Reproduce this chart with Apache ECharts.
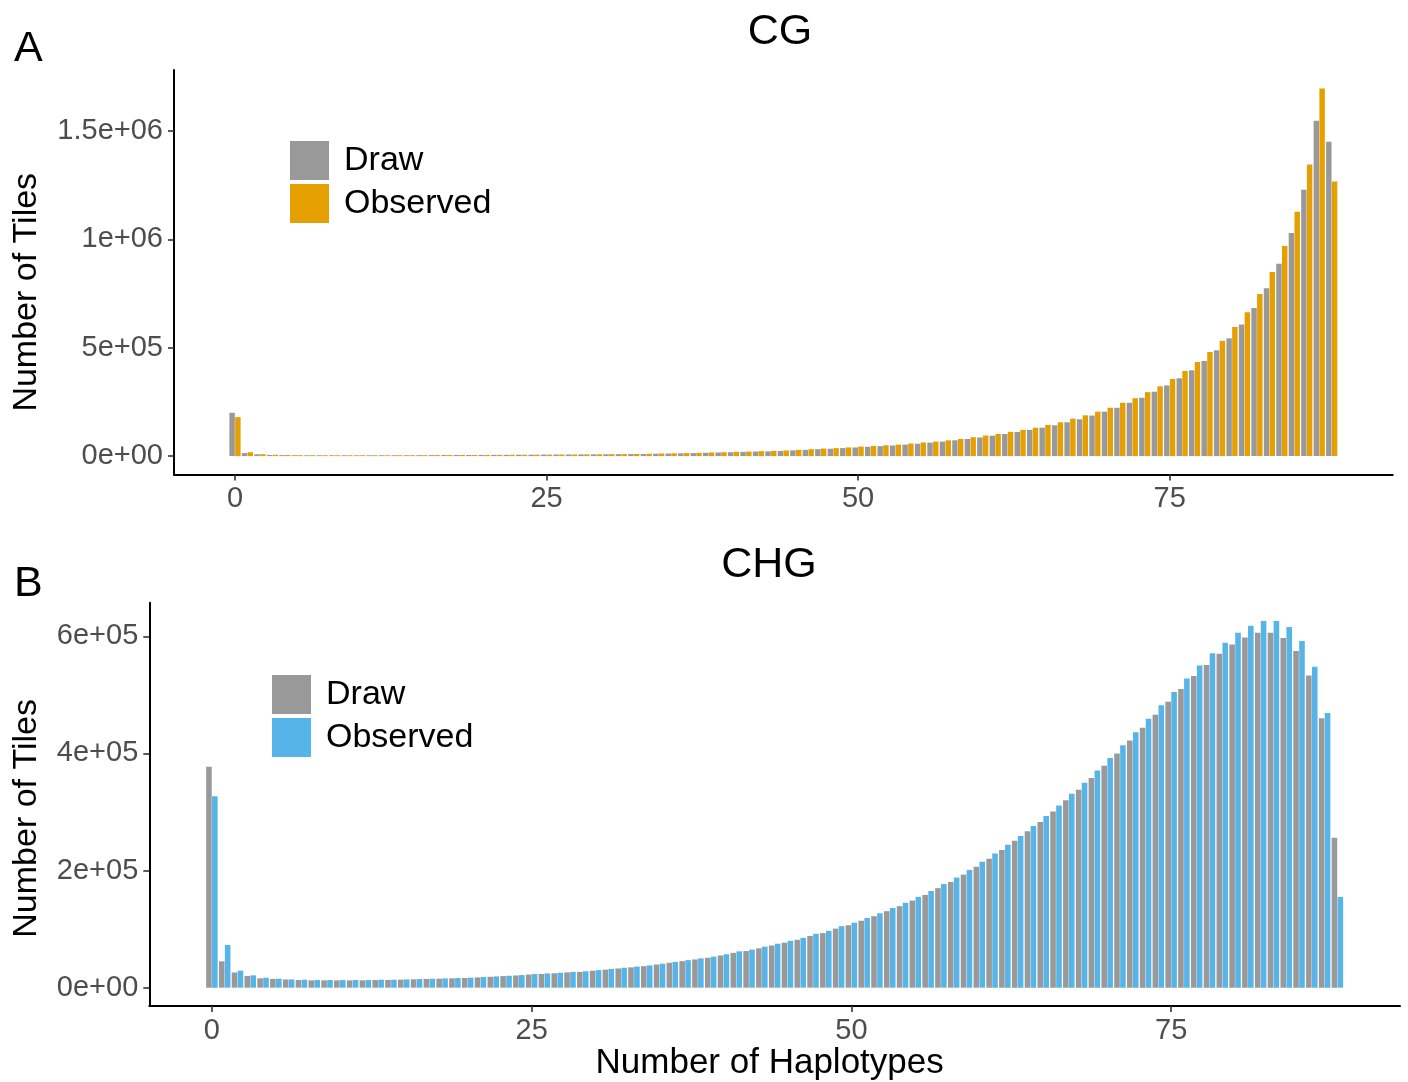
<!DOCTYPE html>
<html>
<head>
<meta charset="utf-8">
<script src="https://cdn.jsdelivr.net/npm/echarts@6/dist/echarts.min.js"></script>
<style>
html,body{margin:0;padding:0;background:#fff;}
#chart{width:1408px;height:1082px;}
</style>
</head>
<body>
<div id="chart"></div>
<script>
// ---------- data ----------
const haplotypes = Array.from({length: 89}, (_, i) => i); // category positions 0..88

const cgDraw = [200000,14000,8500,5500,4700,4300,4000,3900,3900,3900,
  3900,3900,4000,4100,4200,4400,4600,4800,5000,5200,
  5400,5700,6000,6300,6600,6900,7200,7500,7900,8200,
  8500,9000,9500,10000,11000,12000,13000,14000,15500,17000,
  18000,19500,21000,22000,24000,26500,29000,32000,34000,37000,
  40000,43000,46000,49000,53000,57000,62000,67000,73000,79000,
  86000,94000,102000,111000,121000,131000,142000,156000,170000,187000,
  205000,223000,246000,269000,297000,326000,359000,396000,439000,488000,
  543000,607000,683000,774000,887000,1029000,1228000,1547000,1450000];

const cgObserved = [180000,18000,9000,6000,5000,4500,4200,4000,4000,4000,
  4000,4000,4100,4200,4300,4500,4700,4900,5100,5300,
  5500,5800,6100,6400,6700,7000,7300,7700,8100,8500,
  9000,9500,10000,11000,12000,13000,14000,15000,17000,18000,
  20000,21000,23000,24000,26000,29000,32000,35000,37000,40000,
  44000,47000,50000,53000,58000,63000,67000,73000,79000,87000,
  95000,102000,112000,121000,131000,144000,156000,173000,188000,205000,
  223000,246000,267000,295000,322000,356000,393000,434000,480000,532000,
  595000,664000,748000,849000,969000,1127000,1345000,1696000,1267000];

const chgDraw = [377000,45000,26000,20000,16000,15000,14000,13000,12500,12500,
  12500,12500,12500,13000,13200,13700,14200,14800,15300,15900,
  16500,17500,18600,19700,20800,22400,23500,24600,26000,27000,
  29000,30800,32800,34700,36700,39500,42500,45300,48200,51000,
  55000,59500,62500,67200,72000,76800,81700,88300,93200,100800,
  106600,114300,122000,130600,139200,148800,158400,169900,180500,193000,
  206500,220000,235000,251000,267000,283000,301000,320000,338000,358000,
  379000,400000,422000,444000,466000,488000,510000,532000,551000,570000,
  586000,598000,606000,606000,597000,575000,533000,460000,256000];

const chgObserved = [327000,73000,29000,21000,17000,15300,14100,13600,13000,13000,
  13000,13000,13000,13600,13600,14100,14700,15300,15800,16400,
  17000,18100,19200,20300,21500,23200,24300,25400,27000,28000,
  30000,32000,34000,36000,38000,41000,44000,47000,50000,53000,
  57000,62000,65000,70000,75000,80000,85000,92000,97000,105000,
  111000,119000,127000,136000,145000,155000,165000,177000,188000,201000,
  215000,229000,244000,259000,276000,293000,311000,331000,350000,371000,
  392000,414000,436000,459000,482000,505000,528000,550000,571000,589000,
  606000,618000,626000,626000,616000,592000,548000,469000,155000];

const xTicks = [0, 25, 50, 75];
const yTicksCG = [0, 500000, 1000000, 1500000];
const yLabelsCG = ['0e+00', '5e+05', '1e+06', '1.5e+06'];
const yTicksCHG = [0, 200000, 400000, 600000];
const yLabelsCHG = ['0e+00', '2e+05', '4e+05', '6e+05'];

// ---------- styling ----------
const FONT = 'Liberation Sans, Arial, sans-serif';
const GREY = '#999999', ORANGE = '#E69F00', BLUE = '#56B4E9';

const pairs = (vals) => haplotypes.map((x, i) => [x, vals[i]]);
const maxOf = (a, b) => Math.max(...a, ...b);
const cgMax = maxOf(cgDraw, cgObserved);
const chgMax = maxOf(chgDraw, chgObserved);
const xMin = -0.45 - 0.05 * 88.9, xMax = 88.45 + 0.05 * 88.9;

function xAxisCfg(gridIndex, withName) {
  const a = {
    type: 'value', gridIndex, min: xMin, max: xMax,
    axisLine: {show: true, onZero: false, lineStyle: {color: '#000', width: 2}},
    axisTick: {show: true, length: 6, customValues: xTicks, lineStyle: {color: '#333', width: 1.6}},
    axisLabel: {customValues: xTicks, margin: 10, color: '#4d4d4d', fontSize: 29, fontFamily: FONT},
    splitLine: {show: false}
  };
  if (withName) {
    a.name = 'Number of Haplotypes';
    a.nameLocation = 'middle';
    a.nameGap = 40;
    a.nameTextStyle = {color: '#000', fontSize: 35, fontFamily: FONT, padding: [0, 10, 0, 0]};
  }
  return a;
}
function yAxisCfg(gridIndex, maxV, ticks, labels, gap, shiftPad) {
  return {
    type: 'value', gridIndex, min: -0.05 * maxV, max: 1.05 * maxV,
    name: 'Number of Tiles', nameLocation: 'middle', nameGap: gap,
    nameTextStyle: {color: '#000', fontSize: 34, fontFamily: FONT, padding: [0, shiftPad, 0, 0]},
    axisLine: {show: true, onZero: false, lineStyle: {color: '#000', width: 2}},
    axisTick: {show: true, length: 6, customValues: ticks, lineStyle: {color: '#333', width: 1.6}},
    axisLabel: {customValues: ticks, margin: 11, color: '#4d4d4d', fontSize: 29, fontFamily: FONT,
      formatter: (v) => { const i = ticks.indexOf(v); return i >= 0 ? labels[i] : ''; }},
    splitLine: {show: false}
  };
}
function barSeries(name, vals, color, idx) {
  return {
    type: 'bar', name, data: pairs(vals), xAxisIndex: idx, yAxisIndex: idx,
    barCategoryGap: '10%', barGap: '6%',
    itemStyle: {color}, emphasis: {disabled: true}
  };
}
function legendCfg(left, top, obsColor) {
  return {
    orient: 'vertical', left, top, padding: 0, itemGap: 4,
    itemWidth: 39, itemHeight: 39, icon: 'rect', selectedMode: false,
    textStyle: {color: '#000', fontSize: 34, fontFamily: FONT, padding: [0, 0, 0, 10]},
    data: [{name: 'Draw', itemStyle: {color: GREY}}, {name: 'Observed', itemStyle: {color: obsColor}}]
  };
}

const option = {
  animation: false,
  backgroundColor: '#fff',
  title: [
    {text: 'CG', left: 780, top: 11, textAlign: 'center', padding: 0,
      textStyle: {fontSize: 43, fontWeight: 'normal', color: '#000', fontFamily: FONT}},
    {text: 'CHG', left: 769, top: 544, textAlign: 'center', padding: 0,
      textStyle: {fontSize: 43, fontWeight: 'normal', color: '#000', fontFamily: FONT}},
    {text: 'A', left: 14, top: 28, padding: 0,
      textStyle: {fontSize: 43, fontWeight: 'normal', color: '#000', fontFamily: FONT}},
    {text: 'B', left: 14, top: 563, padding: 0,
      textStyle: {fontSize: 43, fontWeight: 'normal', color: '#000', fontFamily: FONT}}
  ],
  legend: [legendCfg(290, 141, ORANGE), legendCfg(272, 675, BLUE)],
  grid: [
    {left: 174, top: 70, width: 1218.7, height: 404.5, containLabel: false},
    {left: 149.3, top: 602.7, width: 1250.7, height: 406, containLabel: false}
  ],
  xAxis: [xAxisCfg(0, false), xAxisCfg(1, true)],
  yAxis: [yAxisCfg(0, cgMax, yTicksCG, yLabelsCG, 130, 40), yAxisCfg(1, chgMax, yTicksCHG, yLabelsCHG, 106, 28)],
  series: [
    barSeries('Draw', cgDraw, GREY, 0),
    barSeries('Observed', cgObserved, ORANGE, 0),
    barSeries('Draw', chgDraw, GREY, 1),
    barSeries('Observed', chgObserved, BLUE, 1)
  ]
};

const chart = echarts.init(document.getElementById('chart'), null, {renderer: 'canvas'});
chart.setOption(option);
</script>
</body>
</html>
